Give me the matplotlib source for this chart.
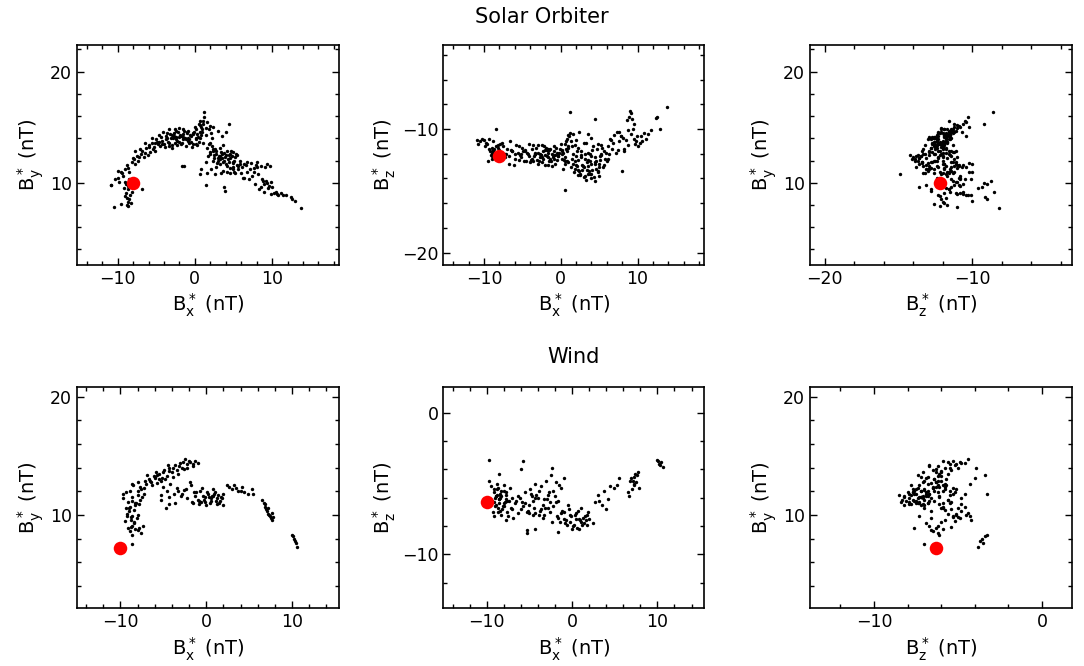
import matplotlib
matplotlib.use("Agg")
import matplotlib.pyplot as plt
from matplotlib.ticker import MultipleLocator

# ---------------- Solar Orbiter hodogram data (nT) ----------------
so_start = [-8.0, 10.0, -12.2]  # Bx, By, Bz of the first sample (red)
so_bx = [
    -8.6, -8.8, -8.4, -8.9, -8.5, -8.7, -9.0, -8.3, -8.6, -8.8,
    -8.2, -8.9, -9.2, -8.5, -8.7, -10.5, -9.5, -10.8, -10.0, -6.8,
    -9.6, -9.3, -9.0, -8.8, -8.5, -8.2, -8.0, -7.8, -7.5, -7.3,
    -7.0, -6.8, -6.6, -6.3, -6.0, -5.8, -5.6, -5.3, -5.0, -4.8,
    -7.7, -7.1, -6.5, -6.1, -5.5, -5.2, -4.6, -4.3, -4.1, -3.9,
    -3.7, -3.5, -3.3, -3.1, -2.9, -2.7, -2.5, -2.3, -2.1, -1.9,
    -1.7, -1.5, -1.3, -1.1, -0.9, -0.7, -0.5, -0.3, -0.1, 0.1,
    -3.8, -3.2, -2.6, -2.0, -1.6, -1.0, -0.4, 0.2, 0.5, 0.8,
    -3.4, -2.8, -2.2, -1.8, -1.2, -0.6, 0.0, 0.4, 0.7, 1.0,
    -4.4, -3.0, -2.4, -1.4, -0.8, -0.2, 0.3, 0.6, -1.7, -1.4,
    -5.2, -4.5, -3.6, -2.6, -1.8, -0.9, 0.1, -10.3, -10.9, -9.8,
    0.5, 0.8, 1.0, 1.2, 1.4, 0.9, 1.1, 1.6, 1.8, 2.0,
    1.2, 2.1, 2.4, 2.2, 1.5, 0.7, 4.4, 3.0, 3.5, 4.0,
    1.6, 1.9, 2.2, 2.5, 2.8, 3.1, 3.4, 3.7, 4.0, 4.3,
    4.6, 4.9, 5.2, 5.5, 5.8, 1.7, 2.0, 2.3, 2.6, 2.9,
    3.2, 3.5, 3.8, 4.1, 4.4, 4.7, 5.0, 5.3, 5.6, 5.9,
    1.5, 1.8, 2.4, 2.7, 3.0, 3.3, 3.6, 3.9, 4.2, 4.5,
    4.8, 5.1, 5.4, 2.1, 2.6, 3.4, 4.1, 4.9, 0.6, 0.8,
    1.4, 1.6, 3.8, 3.9, 4.6, 2.8, 3.3, 3.6, 5.1, 4.4,
    6.1, 6.4, 6.7, 7.0, 7.3, 7.6, 7.9, 8.2, 8.5, 8.8,
    9.1, 9.4, 9.7, 8.6, 8.9, 9.2, 9.5, 8.0, 7.4, 6.8,
    9.0, 9.3, 9.6, 8.7, 9.8, 6.2, 6.6, 7.2, 7.8, 8.3,
    10.0, 10.3, 9.9, 7.6, 8.1, 5.2, 5.6, 6.0, 6.3, 5.0,
    10.5, 10.8, 11.1, 11.4, 11.8, 12.4, 12.6, 12.9, 13.8, 10.6,
    -4.9, -4.2, -3.6, -2.9, -2.3, -1.6, -1.0, -0.5, 0.3, 0.9,
    -4.0, -3.3, -2.7, -2.1, -1.5, -0.9, -0.3, 0.2, 0.6, -2.5,
    2.0, 2.5, 3.0, 3.5, 4.0, 4.5, 5.0, 2.3, 3.2, 3.8,
    -9.4, -8.6, -7.9, -7.2, -6.4, -5.9, -5.4, -4.7, -9.9, -9.1,
]
so_by = [
    8.3, 8.6, 8.9, 9.1, 8.5, 9.4, 8.8, 8.2, 9.7, 8.0,
    9.2, 9.9, 9.5, 10.3, 7.9, 7.8, 8.1, 9.8, 10.4, 9.4,
    11.0, 10.6, 11.2, 11.6, 11.0, 11.9, 12.2, 11.7, 12.4, 12.0,
    12.6, 12.9, 12.3, 13.1, 13.4, 12.8, 13.6, 13.2, 13.9, 13.5,
    12.9, 13.0, 13.6, 12.5, 14.0, 12.9, 14.3, 13.8, 14.6, 13.2,
    14.2, 13.7, 14.8, 14.0, 13.4, 14.5, 14.1, 13.8, 14.9, 14.3,
    13.6, 14.4, 14.0, 13.3, 14.7, 13.9, 14.2, 13.5, 14.6, 14.0,
    13.9, 14.4, 13.6, 14.1, 14.8, 14.5, 13.2, 14.8, 13.7, 14.3,
    13.3, 14.0, 14.6, 13.5, 13.9, 14.3, 15.0, 14.1, 15.2, 13.6,
    14.1, 13.1, 13.9, 14.7, 13.6, 14.4, 13.4, 14.6, 11.5, 11.5,
    13.6, 13.3, 14.5, 14.8, 14.2, 13.8, 13.9, 10.3, 9.8, 10.1,
    15.3, 15.0, 15.6, 15.9, 14.9, 14.6, 15.3, 15.5, 14.8, 15.1,
    16.4, 14.5, 15.0, 14.0, 14.3, 15.6, 15.3, 14.7, 14.2, 14.6,
    13.1, 12.6, 13.3, 12.2, 12.9, 12.4, 12.8, 11.9, 12.5, 12.1,
    12.6, 11.8, 12.3, 11.6, 12.0, 12.4, 13.6, 12.0, 13.0, 11.8,
    13.1, 12.2, 12.7, 11.5, 11.9, 12.9, 11.4, 12.6, 11.2, 11.7,
    11.9, 13.5, 12.9, 11.4, 12.0, 11.7, 13.4, 12.3, 12.9, 11.3,
    12.4, 12.0, 12.5, 11.2, 10.8, 10.9, 11.0, 12.8, 10.8, 11.2,
    9.8, 10.9, 9.6, 9.3, 10.9, 12.6, 12.1, 11.1, 11.0, 12.5,
    11.4, 10.4, 11.0, 10.3, 11.8, 11.3, 11.6, 10.8, 11.5, 10.2,
    11.4, 11.7, 11.5, 9.6, 9.9, 10.2, 9.5, 11.9, 10.6, 11.9,
    9.2, 10.0, 9.7, 10.3, 10.1, 10.4, 11.6, 11.2, 9.9, 9.4,
    9.6, 9.1, 9.0, 11.0, 11.4, 10.9, 11.5, 10.9, 11.7, 11.2,
    9.2, 8.9, 9.1, 8.9, 8.9, 8.7, 8.5, 8.4, 7.7, 9.0,
    13.7, 13.5, 14.0, 14.3, 13.4, 13.9, 14.6, 13.7, 14.4, 14.8,
    13.5, 13.6, 14.2, 13.7, 14.1, 14.0, 14.5, 13.5, 14.0, 14.7,
    12.8, 12.5, 12.2, 12.6, 11.7, 12.2, 11.9, 13.0, 12.4, 12.0,
    10.9, 11.3, 12.1, 12.3, 12.7, 13.2, 13.0, 13.7, 11.1, 10.1,
]
so_bz = [
    -12.0, -11.8, -12.3, -11.9, -12.1, -11.6, -12.2, -11.9, -12.0, -11.7,
    -11.5, -12.4, -11.8, -11.4, -12.2, -11.0, -12.6, -11.2, -10.9, -12.8,
    -11.2, -10.8, -11.5, -11.0, -10.0, -11.3, -11.7, -11.9, -11.4, -12.0,
    -11.6, -12.2, -11.0, -11.8, -12.4, -11.3, -11.9, -12.1, -11.5, -12.6,
    -11.1, -12.0, -11.7, -12.9, -11.4, -12.3, -11.8, -12.0, -11.2, -12.5,
    -11.6, -12.2, -11.9, -12.5, -11.3, -12.0, -12.7, -11.8, -12.1, -11.5,
    -12.3, -11.7, -12.6, -12.0, -11.4, -12.8, -11.9, -12.2, -11.6, -12.4,
    -12.4, -11.5, -12.1, -12.9, -11.9, -12.3, -12.0, -11.7, -12.6, -11.8,
    -12.0, -12.6, -11.4, -12.2, -13.0, -11.5, -11.2, -12.5, -11.0, -12.7,
    -11.9, -12.8, -12.3, -11.6, -12.1, -11.9, -13.2, -12.3, -12.9, -12.4,
    -12.0, -12.6, -11.3, -12.1, -11.7, -12.4, -11.8, -10.8, -10.9, -11.1,
    -11.2, -10.8, -10.5, -10.3, -11.0, -11.5, -10.6, -10.4, -11.3, -10.9,
    -8.6, -11.8, -10.2, -11.5, -12.4, -11.6, -9.2, -11.1, -10.4, -10.7,
    -12.8, -13.2, -12.5, -13.6, -12.9, -13.8, -12.7, -13.4, -12.2, -13.9,
    -12.6, -13.4, -12.0, -13.1, -12.4, -13.5, -12.2, -13.7, -11.8, -13.0,
    -12.4, -13.6, -12.0, -13.3, -12.7, -11.6, -13.8, -12.1, -12.9, -11.9,
    -11.4, -12.6, -13.4, -12.3, -13.9, -11.1, -11.9, -14.0, -11.4, -12.8,
    -13.5, -12.5, -11.5, -13.0, -12.1, -13.3, -11.7, -11.2, -14.9, -12.6,
    -13.1, -12.0, -13.6, -12.8, -13.2, -13.3, -14.1, -13.0, -12.2, -14.2,
    -11.4, -10.8, -11.6, -10.5, -10.2, -11.0, -10.6, -11.8, -10.9, -11.3,
    -10.4, -10.0, -11.2, -9.3, -9.0, -8.7, -9.6, -13.4, -11.7, -11.1,
    -8.5, -9.2, -10.8, -10.1, -11.0, -12.4, -10.9, -11.9, -10.6, -11.6,
    -11.4, -11.1, -10.6, -10.2, -10.7, -11.3, -11.8, -12.6, -12.0, -13.1,
    -10.6, -10.3, -10.8, -10.4, -10.1, -9.1, -9.0, -10.0, -8.2, -11.0,
    -11.8, -12.2, -12.6, -11.9, -12.4, -11.6, -12.1, -12.5, -11.9, -11.4,
    -12.7, -12.0, -12.3, -11.7, -12.6, -11.8, -12.2, -12.0, -12.8, -11.3,
    -12.9, -13.7, -13.1, -12.5, -13.6, -12.3, -12.8, -13.3, -12.0, -12.6,
    -11.6, -11.9, -11.2, -12.3, -11.8, -12.0, -12.5, -11.7, -11.4, -12.1,
]

# ---------------- Wind hodogram data (nT) ----------------
wi_start = [-10.0, 7.2, -6.3]
wi_bx = [
    -8.6, -8.9, -8.3, -8.7, -9.1, -8.4, -8.0, -7.6, -8.7, -8.8,
    -9.5, -9.2, -9.0, -8.8, -8.6, -8.4, -8.2, -8.0, -7.8, -7.6,
    -9.7, -9.4, -9.1, -8.9, -8.5, -8.1, -7.9, -7.5, -7.3, -7.1,
    -9.0, -8.7, -8.3, -7.7, -7.4, -7.8, -8.6, -9.3, -8.0, -7.2,
    -7.0, -6.7, -6.4, -6.1, -5.8, -5.5, -5.2, -4.9, -4.6, -4.3,
    -4.0, -3.7, -3.4, -3.1, -2.8, -2.5, -2.2, -1.9, -1.6, -1.3,
    -6.9, -6.3, -5.9, -5.3, -4.8, -4.5, -3.9, -3.3, -2.7, -1.0,
    -5.0, -4.6, -4.2, -3.8, -3.4, -3.0, -2.6, -2.2, -1.8, -1.4,
    -1.0, -0.7, -0.4, -0.1, 0.2, 0.5, 0.8, 1.1, 1.4, 1.7,
    -1.6, -1.2, -0.8, -0.5, -0.2, 0.1, 0.4, 0.7, 1.0, 1.3,
    1.6, 1.9, 0.0, -0.6, -1.9, -2.4, -3.6, -4.4, -4.7, 2.0,
    -5.3, -5.3, -4.3, -1.7, 0.8, 1.2, -9.7, -5.7, -6.0, -2.3,
    2.4, 2.7, 3.0, 3.2, 3.5, 3.7, 4.0, 4.4, 4.9, 5.5,
    6.5, 6.7, 6.9, 7.0, 7.1, 7.2, 7.3, 7.4, 7.5, 7.6,
    7.7, 7.8, 7.2, 6.8, 5.3, 4.2, 10.0, 10.2, 10.4, 10.6,
    -8.9, -8.6, -8.3, -8.0, -7.7, -8.4, -8.8, -9.2, 10.1, 10.3,
    -6.6, -6.0, -5.5, -5.0, -4.4, -3.9, -3.2, -2.6, -2.0, -1.5,
    -1.3, -0.9, -0.3, 0.3, 0.6, 0.9, 1.5, 1.8, -2.8, -3.3,
]
wi_by = [
    8.3, 8.6, 8.8, 9.1, 8.9, 9.4, 8.7, 8.5, 7.5, 9.6,
    9.5, 10.1, 10.6, 9.8, 11.2, 10.4, 11.0, 11.7, 10.9, 12.2,
    11.4, 11.9, 11.1, 12.0, 12.5, 9.7, 12.8, 11.5, 12.3, 12.9,
    10.3, 9.9, 10.8, 11.3, 9.1, 8.9, 12.6, 10.6, 10.0, 11.8,
    12.6, 13.0, 12.8, 13.3, 12.7, 13.5, 13.1, 13.8, 13.3, 14.0,
    13.6, 14.2, 13.8, 14.4, 14.0, 14.7, 14.3, 14.5, 14.1, 14.6,
    13.4, 12.5, 13.6, 12.9, 13.0, 14.2, 13.2, 13.5, 14.5, 14.4,
    12.4, 12.0, 12.6, 11.8, 12.3, 11.6, 12.1, 11.4, 12.5, 11.9,
    11.3, 12.0, 11.6, 11.1, 11.8, 11.4, 12.2, 11.2, 11.7, 11.5,
    11.0, 11.9, 10.9, 12.3, 11.5, 11.9, 11.0, 11.6, 11.9, 11.4,
    11.2, 10.8, 10.8, 11.1, 12.8, 12.2, 11.0, 10.9, 10.6, 11.8,
    11.3, 11.7, 11.5, 11.1, 11.6, 10.9, 11.8, 13.4, 13.1, 14.0,
    12.5, 12.4, 12.2, 12.5, 12.3, 12.0, 12.0, 11.9, 11.8, 11.8,
    11.3, 11.0, 10.7, 10.5, 10.3, 10.1, 10.0, 9.9, 9.7, 10.2,
    9.6, 9.8, 10.6, 10.9, 12.2, 12.4, 8.3, 8.0, 7.6, 7.3,
    10.7, 11.5, 11.0, 12.0, 12.4, 9.3, 9.0, 9.9, 8.2, 7.8,
    12.9, 13.2, 13.0, 13.6, 13.7, 14.0, 14.1, 13.9, 14.6, 14.3,
    11.6, 11.2, 11.3, 11.5, 11.2, 11.8, 11.0, 11.4, 11.8, 12.0,
]
wi_bz = [
    -6.1, -6.5, -5.9, -6.7, -6.3, -6.0, -6.6, -6.2, -7.0, -5.8,
    -5.2, -5.6, -6.0, -5.0, -6.4, -5.8, -6.8, -5.5, -6.1, -7.0,
    -4.8, -6.2, -5.4, -5.9, -5.7, -6.6, -6.3, -7.3, -5.3, -6.0,
    -6.6, -5.3, -7.2, -5.6, -6.2, -7.6, -4.3, -7.0, -5.1, -6.7,
    -6.8, -6.4, -7.1, -6.0, -6.6, -5.6, -6.9, -5.4, -6.2, -5.0,
    -6.0, -5.2, -6.5, -4.8, -5.8, -4.4, -5.5, -4.9, -6.2, -5.3,
    -7.4, -5.9, -6.3, -7.0, -5.7, -6.7, -7.2, -6.1, -5.6, -4.6,
    -6.5, -7.2, -5.8, -6.9, -7.4, -6.1, -7.0, -6.6, -7.3, -7.7,
    -7.0, -7.6, -6.8, -7.3, -7.9, -7.1, -7.5, -6.7, -7.8, -7.2,
    -7.4, -6.9, -7.8, -6.5, -7.2, -8.0, -7.5, -6.9, -7.7, -7.4,
    -7.6, -7.0, -8.2, -7.9, -6.3, -7.7, -6.8, -7.1, -5.9, -7.5,
    -8.3, -8.5, -8.2, -8.4, -8.2, -7.9, -3.3, -3.4, -4.0, -3.9,
    -7.8, -6.3, -5.8, -6.2, -6.5, -5.5, -6.8, -5.2, -5.3, -4.6,
    -5.6, -5.9, -4.6, -5.4, -4.8, -5.1, -4.5, -4.3, -4.9, -4.4,
    -4.2, -5.3, -5.0, -4.8, -5.1, -6.1, -3.3, -3.6, -3.5, -3.8,
    -5.9, -6.1, -5.5, -6.4, -5.8, -6.9, -5.4, -7.3, -3.4, -3.7,
    -6.2, -6.8, -6.4, -7.1, -6.0, -5.5, -6.7, -6.3, -5.9, -5.1,
    -7.1, -7.5, -7.7, -7.2, -8.1, -7.6, -7.3, -7.9, -6.7, -7.2,
]

# axis limits
so_lim_x = (-15.3, 18.7)
so_lim_y = (2.6, 22.4)
so_lim_z = (-21.0, -3.2)
wi_lim_x = (-15.1, 15.5)
wi_lim_y = (2.1, 20.8)
wi_lim_z = (-13.8, 1.8)

lab = {
    "x": r"$\mathrm{B_x^*}$ (nT)",
    "y": r"$\mathrm{B_y^*}$ (nT)",
    "z": r"$\mathrm{B_z^*}$ (nT)",
}

plt.rcParams["font.family"] = ["DejaVu Sans"]
plt.rcParams["font.size"] = 12

fig = plt.figure(figsize=(10.84, 6.66), dpi=100)

W, H = 1084.0, 666.0
cols = [(76.7, 339.3), (443.3, 704.3), (810.0, 1072.3)]
rows = [(45.0, 265.0), (387.3, 608.3)]


def make_ax(r, c):
    x0, x1 = cols[c]
    y0, y1 = rows[r]
    ax = fig.add_axes([x0 / W, 1 - y1 / H, (x1 - x0) / W, (y1 - y0) / H])
    ax.tick_params(which="both", direction="in", top=True, right=True,
                   labelsize=12.5)
    ax.tick_params(which="major", length=5, width=1.0)
    ax.tick_params(which="minor", length=3, width=1.0)
    ax.xaxis.set_major_locator(MultipleLocator(10))
    ax.yaxis.set_major_locator(MultipleLocator(10))
    ax.xaxis.set_minor_locator(MultipleLocator(2))
    ax.yaxis.set_minor_locator(MultipleLocator(2))
    for s in ax.spines.values():
        s.set_linewidth(1.2)
    return ax


datasets = [
    (so_bx, so_by, so_bz, so_start, so_lim_x, so_lim_y, so_lim_z),
    (wi_bx, wi_by, wi_bz, wi_start, wi_lim_x, wi_lim_y, wi_lim_z),
]

for r, (bx, by, bz, st, lx, ly, lz) in enumerate(datasets):
    comps = {"x": (bx, st[0], lx), "y": (by, st[1], ly), "z": (bz, st[2], lz)}
    for c, (hx, vy) in enumerate([("x", "y"), ("x", "z"), ("z", "y")]):
        ax = make_ax(r, c)
        xd, xs, xl = comps[hx]
        yd, ys, yl = comps[vy]
        ax.scatter(xd, yd, s=6, c="black", linewidths=0, zorder=2)
        ax.scatter([xs], [ys], s=95, c="red", linewidths=0, zorder=3)
        ax.set_xlim(*xl)
        ax.set_ylim(*yl)
        ax.set_xlabel(lab[hx], fontsize=14, labelpad=3)
        ax.set_ylabel(lab[vy], fontsize=14, labelpad=3)

fig.text(0.5, 1 - 17 / H, "Solar Orbiter", ha="center", va="center", fontsize=15)
fig.text(574 / W, 1 - 357 / H, "Wind", ha="center", va="center", fontsize=15)

fig.savefig("out.png", dpi=100)
